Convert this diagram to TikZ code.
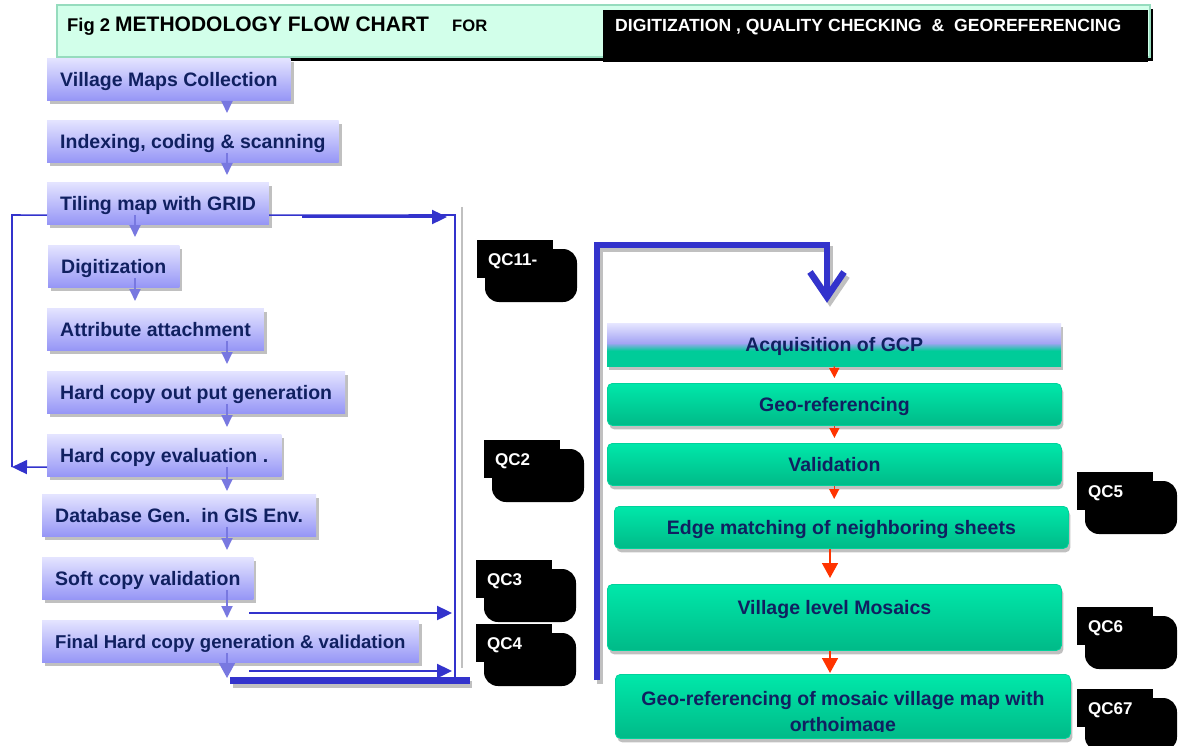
\documentclass[tikz,border=0pt]{standalone}
\usepackage{fontspec}
\setmainfont{Liberation Sans}
\usetikzlibrary{arrows.meta,shadows,calc}
\definecolor{navy}{RGB}{16,32,96}
\definecolor{lavtop}{RGB}{228,228,255}
\definecolor{lavbot}{RGB}{150,150,246}
\definecolor{grtop}{RGB}{0,232,170}
\definecolor{grbot}{RGB}{0,186,136}
\definecolor{grline}{RGB}{0,210,155}
\definecolor{shgray}{RGB}{192,192,192}
\definecolor{cblue}{RGB}{51,51,204}
\definecolor{sarrow}{RGB}{120,120,224}
\definecolor{redarr}{RGB}{255,51,0}
\definecolor{mint}{RGB}{210,255,234}
\definecolor{mintline}{RGB}{150,220,190}
\definecolor{acqgreen}{RGB}{0,204,153}
\definecolor{acqlavA}{RGB}{230,230,255}
\definecolor{acqlavB}{RGB}{164,164,244}
\pgfdeclareverticalshading{acqshade}{100bp}{color(0bp)=(acqgreen); color(43bp)=(acqgreen); color(52bp)=(acqlavB); color(75bp)=(acqlavA); color(100bp)=(acqlavA)}
\newcommand{\qcmark}[4]{%
  \fill[rounded corners=14pt] (#2+8,#3+9) rectangle (#2+100,#3+62);
  \fill (#2,#3) rectangle (#2+76,#3+38);
  \node[qctext] (#1) at (#2+11,#3+25) {#4};}
\begin{document}
\begin{tikzpicture}[x=1pt,y=-1pt,
  boxfont/.style={font=\fontsize{19.5}{22}\selectfont\bfseries},
  lbox/.style={boxfont, anchor=north west, minimum height=42pt, inner xsep=13pt, inner ysep=0pt,
    text height=16pt, text depth=2pt, top color=lavtop, bottom color=lavbot, text=navy,
    general shadow={fill=shgray, shadow xshift=3pt, shadow yshift=-4pt}},
  gbox/.style={boxfont, anchor=north west, minimum width=454pt, minimum height=42pt, inner sep=0pt,
    text height=16pt, text depth=2pt, rounded corners=5pt, top color=grtop, bottom color=grbot,
    draw=grline, line width=0.8pt, text=navy,
    general shadow={fill=shgray, shadow xshift=2pt, shadow yshift=-4pt}},
  gtext/.style={boxfont, text=navy, anchor=base, inner sep=0pt},
  qctext/.style={font=\fontsize{17}{20}\selectfont\bfseries, text=white, anchor=base west, inner sep=0pt},
  smallarr/.style={draw=sarrow, line width=1.8pt, -{Triangle[width=11pt,length=12pt]}},
  thinblue/.style={draw=cblue, line width=1.6pt},
  medblue/.style={draw=cblue, line width=2.4pt, -{Triangle[width=14pt,length=15pt]}},
  bigblue/.style={draw=cblue, line width=6.5pt, line join=miter},
  bigshadow/.style={draw=shgray, line width=6.5pt, line join=miter, transform canvas={shift={(3,4)}}},
  redsm/.style={draw=redarr, line width=1.4pt, -{Triangle[width=10pt,length=10pt]}},
  redbig/.style={draw=redarr, line width=1.6pt, -{Triangle[width=16pt,length=15pt]}}]
\path[use as bounding box] (0,0) rectangle (1180,746);
\clip (0,0) rectangle (1180,746);

% ---------- title bar ----------
\fill[black] (61,9) rectangle (1153,61);
\filldraw[fill=mint, draw=mintline, line width=1.2pt] (57,5) rectangle (1150,57);
\fill[black] (603,10) rectangle (1148,62);
\node[anchor=base west, inner sep=0pt, font=\fontsize{18.4}{20}\selectfont\bfseries] (t1) at (67,32) {Fig 2};
\node[anchor=base west, inner sep=0pt, font=\fontsize{21}{24}\selectfont\bfseries] (t2) at (115,32) {METHODOLOGY FLOW CHART};
\node[anchor=base west, inner sep=0pt, font=\fontsize{16.6}{20}\selectfont\bfseries] (t3) at (452,32) {FOR};
\node[anchor=base west, inner sep=0pt, text=white, font=\fontsize{17.6}{20}\selectfont\bfseries] (t4) at (615,32) {DIGITIZATION , QUALITY CHECKING\ \ \&\ \ GEOREFERENCING};

% ---------- left column ----------
\node[lbox] (vmc) at (47,58) {Village Maps Collection};
\node[lbox] (ics) at (47,120) {Indexing, coding \& scanning};
\node[lbox] (tmg) at (47,182) {Tiling map with GRID};
\node[lbox] (dig) at (48,245) {Digitization};
\node[lbox] (att) at (47,308) {Attribute attachment};
\node[lbox] (hcg) at (47,371) {Hard copy out put generation};
\node[lbox] (hce) at (47,434) {Hard copy evaluation .};
\node[lbox] (dbg) at (42,494) {Database Gen.\ \ in GIS Env.};
\node[lbox] (scv) at (42,557) {Soft copy validation};
\node[lbox, font=\fontsize{18.6}{22}\selectfont\bfseries] (fhc) at (42,620) {Final Hard copy generation \& validation};

\coordinate (cA) at (227,0);
\coordinate (cB) at (135,0);
\draw[smallarr] ($(vmc.south -| cA)+(0,3)$) -- ($(ics.north -| cA)+(0,-7)$);
\draw[smallarr] ($(ics.south -| cA)+(0,-9)$) -- ($(tmg.north -| cA)+(0,-7)$);
\draw[smallarr] ($(tmg.south -| cB)+(0,-9)$) -- ($(dig.north -| cB)+(0,-8)$);
\draw[smallarr] ($(dig.south -| cB)+(0,-9)$) -- ($(att.north -| cB)+(0,-7)$);
\draw[smallarr] ($(att.south -| cA)+(0,-9)$) -- ($(hcg.north -| cA)+(0,-7)$);
\draw[smallarr] ($(hcg.south -| cA)+(0,-9)$) -- ($(hce.north -| cA)+(0,-7)$);
\draw[smallarr] ($(hce.south -| cA)+(0,-9)$) -- ($(dbg.north -| cA)+(0,-3)$);
\draw[smallarr] ($(dbg.south -| cA)+(0,-9)$) -- ($(scv.north -| cA)+(0,-7)$);
\draw[smallarr] ($(scv.south -| cA)+(0,-9)$) -- ($(fhc.north -| cA)+(0,-2)$);

% ---------- blue connectors (left part) ----------
\coordinate (lt) at (12,215);
\coordinate (lb) at (12,467);
\draw[thinblue] ($(tmg.west)+(0,12)$) -- (lt) -- (lb);
\draw[thinblue,-{Triangle[width=14pt,length=15pt]}] ($(hce.west)+(0,12)$) -- (lb);

\coordinate (rt) at (455,215);
\coordinate (rb) at (455,677);
\draw[shgray, line width=2pt] (462,207) -- (462,668);
\draw[thinblue] ($(tmg.east)+(0,12)$) -- (rt) -- (rb);
\coordinate (a1s) at (302,217);
\coordinate (a1e) at (447,217);
\draw[medblue] (a1s) -- (a1e);
\coordinate (a2s) at (249,613);
\coordinate (a2e) at (452,613);
\draw[medblue] (a2s) -- (a2e);
\coordinate (a3s) at (249,671);
\coordinate (a3e) at (452,671);
\draw[medblue] (a3s) -- (a3e);

% thick bottom bar
\coordinate (tb1) at (230,680);
\coordinate (tb2) at (470,680);
\draw[shgray, line width=7pt] (233,684) -- (472,684);
\draw[cblue, line width=7pt] (tb1) -- (tb2);
\draw[smallarr, -{Triangle[width=16pt,length=15pt]}] ($(fhc.south -| cA)+(0,-9)$) -- ($(tb1 -| cA)+(0,-2)$);

% ---------- QC labels ----------
\qcmark{qc11}{477}{240}{QC11-}
\qcmark{qc2}{484}{440}{QC2}
\qcmark{qc3}{476}{560}{QC3}
\qcmark{qc4}{476}{624}{QC4}
\qcmark{qc5}{1077}{472}{QC5}
\qcmark{qc6}{1077}{607}{QC6}
\qcmark{qc67}{1077}{689}{QC67}

% ---------- right column ----------
\node[boxfont, anchor=north west, minimum width=454pt, minimum height=43pt, inner sep=0pt,
  text height=16pt, text depth=2pt, text=navy, shading=acqshade,
  general shadow={fill=shgray, shadow xshift=2pt, shadow yshift=-4pt}] (acq) at (607,323) {Acquisition of GCP};
\node[gbox] (geo) at (607,383) {Geo-referencing};
\node[gbox] (val) at (607,443) {Validation};
\node[gbox] (edg) at (614,506) {Edge matching of neighboring sheets};
\node[gbox, minimum height=66pt] (vlm) at (607,584) {};
\node[gtext] (vlmt) at ($(vlm.north)+(0,30)$) {Village level Mosaics};
\node[gbox, minimum height=64pt, minimum width=455pt] (gmo) at (615,674) {};
\begin{scope}
  \clip (615,674) rectangle (1070,731);
  \node[gtext] (gmo1) at ($(gmo.north)+(0,31)$) {Geo-referencing of mosaic village map with};
  \node[gtext] (gmo2) at ($(gmo.north)+(0,57)$) {orthoimage};
\end{scope}

\coordinate (cR) at (830,0);
\draw[redsm] (acq.south) -- ($(geo.north)+(0,-5)$);
\draw[redsm] (geo.south) -- ($(val.north)+(0,-5)$);
\draw[redsm] (val.south -| acq.south) -- ($(edg.north -| acq.south)+(0,-7)$);
\draw[redbig] (edg.south -| cR) -- ($(vlm.north -| cR)+(0,-6)$);
\draw[redbig] (vlm.south -| cR) -- ($(gmo.north -| cR)+(0,-1)$);

% ---------- big blue connector ----------
\coordinate (bb) at (597,680);
\coordinate (bt) at (597,245);
\coordinate (bx) at (827,0);
\draw[bigshadow] (bb) -- (bt) -- (bt -| bx) -- ($(acq.north -| bx)+(0,-26)$);
\draw[bigshadow] (810,272) -- ($(acq.north -| bx)+(0,-26)$) -- (844,272);
\draw[bigblue] (bb) -- (bt) -- (bt -| bx) -- ($(acq.north -| bx)+(0,-26)$);
\draw[bigblue] (810,272) -- ($(acq.north -| bx)+(0,-26)$) -- (844,272);
\end{tikzpicture}
\end{document}
